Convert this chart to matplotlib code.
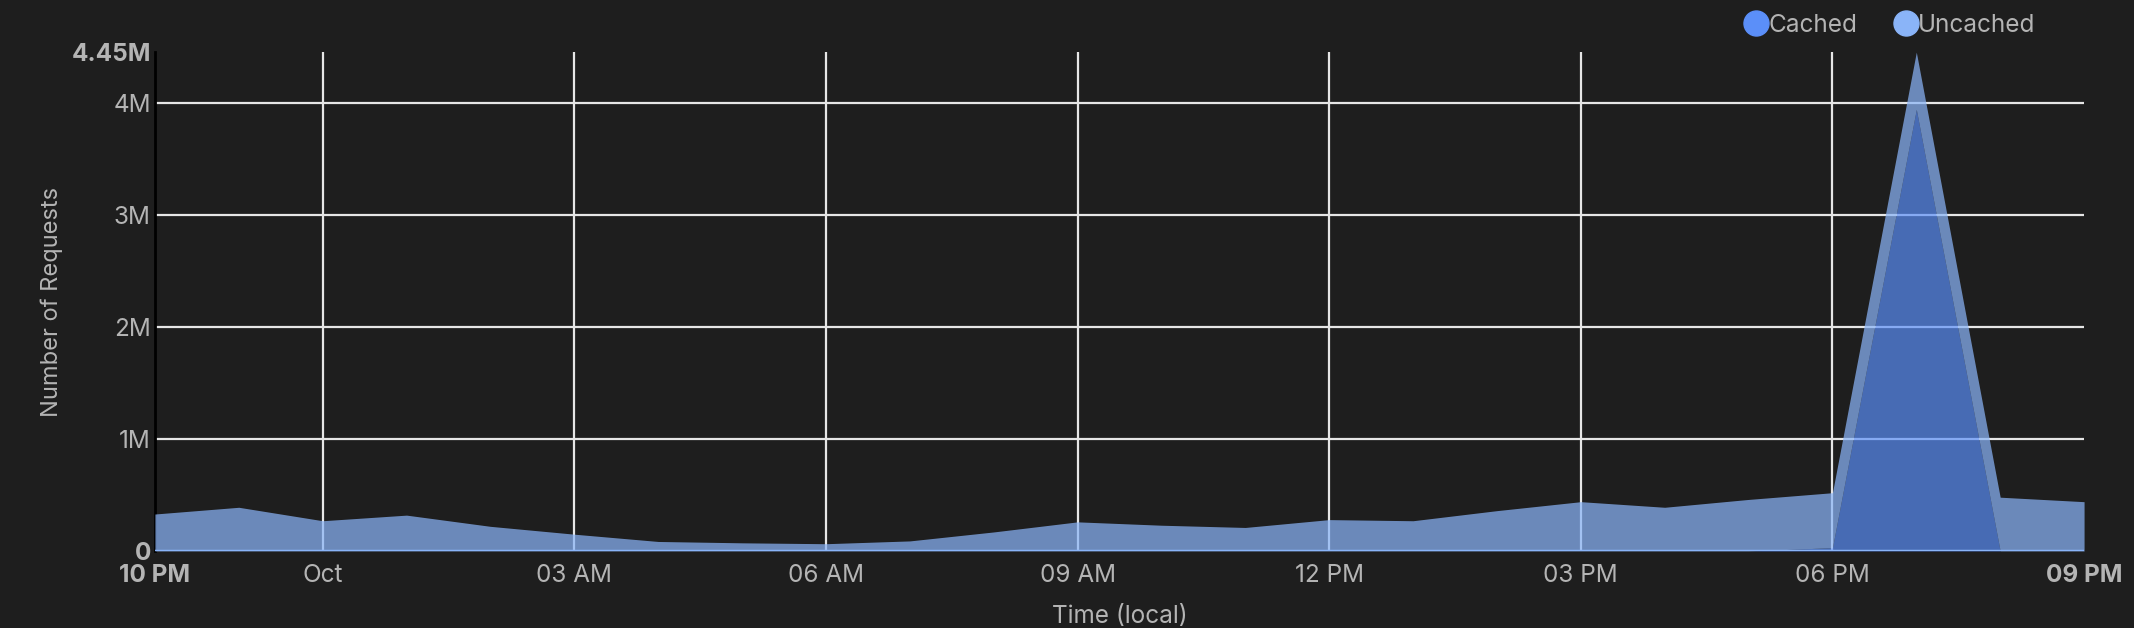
import matplotlib
matplotlib.use("Agg")
import matplotlib.pyplot as plt
import matplotlib.dates as mdates
from matplotlib.lines import Line2D
import pandas as pd
import numpy as np

# hourly buckets, 10 PM -> 9 PM next day
times = pd.date_range("2023-09-30 22:00", "2023-10-01 21:00", freq="h")

# requests in millions
cached = [0, 0, 0, 0, 0, 0, 0, 0, 0, 0, 0, 0,
          0, 0, 0, 0, 0, 0, 0, 0, 0.03, 3.94, 0, 0]
uncached = [0.33, 0.39, 0.27, 0.32, 0.22, 0.15, 0.085, 0.073, 0.065, 0.09, 0.17, 0.26,
            0.23, 0.21, 0.28, 0.27, 0.36, 0.44, 0.39, 0.46, 0.49, 0.51, 0.48, 0.44]

y_ticks = [0, 1, 2, 3, 4, 4.45]
y_labels = ["0", "1M", "2M", "3M", "4M", "4.45M"]
x_tick_labels = ["10 PM", "Oct", "03 AM", "06 AM", "09 AM", "12 PM", "03 PM", "06 PM", "09 PM"]

BG = "#1e1e1e"
TXT = "#b4b4b4"
GRID = "#e6e6e6"
C_CACHED = "#5b8ff9"
C_UNCACHED = "#8ab4f8"

plt.rcParams["font.family"] = ["Inter", "DejaVu Sans"]

fig = plt.figure(figsize=(21.34, 6.28), dpi=100, facecolor=BG)
ax = fig.add_axes([0.0726, 0.1226, 0.9040, 0.7944])
ax.set_facecolor(BG)

cached = np.array(cached) * 1e6
uncached = np.array(uncached) * 1e6
total = cached + uncached

ax.fill_between(times, 0, cached, color=C_CACHED, alpha=0.69, lw=0, zorder=3)
ax.fill_between(times, cached, total, color=C_UNCACHED, alpha=0.72, lw=0, zorder=3)
ax.axhline(0, color=C_UNCACHED, lw=2.5, zorder=4)

ax.set_xlim(times[0], times[-1])
ax.set_ylim(0, 4.45e6)

# ticks
x_ticks = [times[0]] + list(pd.date_range("2023-10-01 00:00", "2023-10-01 18:00", freq="3h")) + [times[-1]]
ax.set_xticks(x_ticks)
ax.set_xticklabels(x_tick_labels)
ax.set_yticks([v * 1e6 for v in y_ticks])
ax.set_yticklabels(y_labels)
ax.tick_params(axis="both", length=0, colors=TXT, labelsize=17.5)
ax.tick_params(axis="x", pad=9)
ax.tick_params(axis="y", pad=3)
for i, lbl in enumerate(ax.get_xticklabels()):
    if i in (0, len(x_tick_labels) - 1):
        lbl.set_fontweight("bold")
for i, lbl in enumerate(ax.get_yticklabels()):
    if y_labels[i] in ("0", "4.45M"):
        lbl.set_fontweight("bold")

# grid lines (not at the edges)
for t in x_ticks[1:-1]:
    ax.axvline(t, color=GRID, lw=1.6, zorder=1)
for v in y_ticks[1:-1]:
    ax.axhline(v * 1e6, color=GRID, lw=1.6, zorder=1)

for s in ["top", "right", "bottom"]:
    ax.spines[s].set_visible(False)
ax.spines["left"].set_color("#000000")
ax.spines["left"].set_linewidth(2)

ax.set_ylabel("Number of Requests", color=TXT, fontsize=17, labelpad=6)
ax.set_xlabel("Time (local)", color=TXT, fontsize=17.5, labelpad=13)

handles = [Line2D([], [], marker="o", ls="", markersize=18, color=C_CACHED, label="Cached"),
           Line2D([], [], marker="o", ls="", markersize=18, color=C_UNCACHED, label="Uncached")]
fig.legend(handles=handles, loc="upper right", bbox_to_anchor=(0.964, 1.013), ncol=2,
           frameon=False, fontsize=17.5, labelcolor=TXT, handletextpad=0.0,
           columnspacing=1.5, handlelength=1.0)

fig.savefig("out.png", dpi=100, facecolor=BG)
